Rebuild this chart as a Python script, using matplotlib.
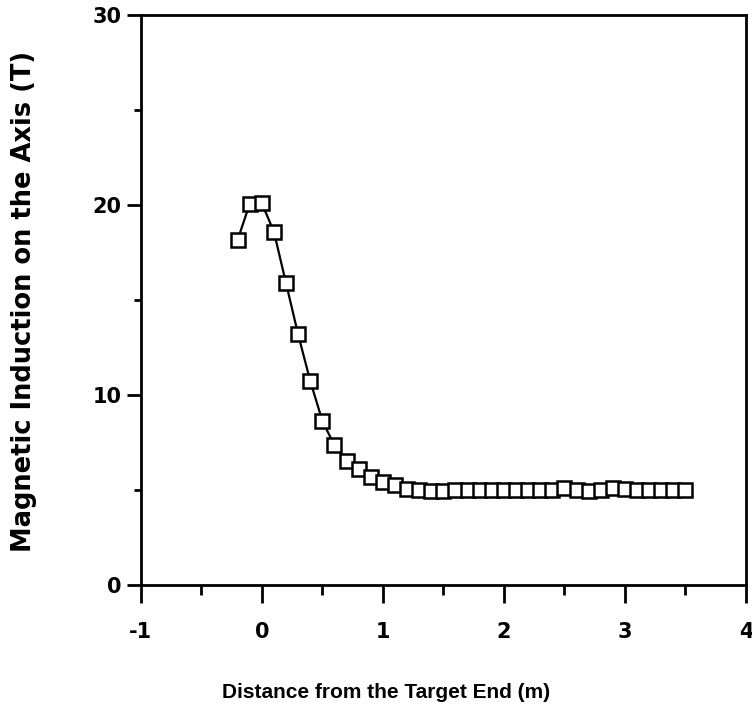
import matplotlib
matplotlib.use("Agg")
import matplotlib.pyplot as plt
from matplotlib.ticker import MultipleLocator

distance = [-0.2, -0.1, 0.0, 0.1, 0.2, 0.3, 0.4, 0.5, 0.6, 0.7, 0.8, 0.9,
            1.0, 1.1, 1.2, 1.3, 1.4, 1.5, 1.6, 1.7, 1.8, 1.9, 2.0, 2.1,
            2.2, 2.3, 2.4, 2.5, 2.6, 2.7, 2.8, 2.9, 3.0, 3.1, 3.2, 3.3,
            3.4, 3.5]
induction = [18.15, 20.05, 20.1, 18.6, 15.9, 13.2, 10.75, 8.65, 7.35, 6.55,
             6.1, 5.7, 5.42, 5.25, 5.06, 4.98, 4.97, 4.97, 4.98, 4.98, 4.98,
             4.98, 4.99, 4.99, 4.99, 4.99, 5.02, 5.08, 4.99, 4.93, 5.0, 5.08,
             5.04, 4.99, 4.98, 4.99, 4.99, 5.0]

x_ticks = [-1, 0, 1, 2, 3, 4]
y_ticks = [0, 10, 20, 30]

plt.rcParams['font.family'] = ['Liberation Sans', 'DejaVu Sans']
plt.rcParams['font.weight'] = 'bold'
plt.rcParams['axes.unicode_minus'] = False

fig = plt.figure(figsize=(7.52, 7.14), dpi=100)
ax = fig.add_axes([140.7 / 752, 1 - 585 / 714, (746 - 140.7) / 752, (585 - 15) / 714])

ax.plot(distance, induction, color='black', lw=1.6, marker='s', ms=9.5,
        mfc='white', mec='black', mew=1.8, zorder=3)

ax.set_xlim(-1, 4)
ax.set_ylim(0, 30)
ax.set_xticks(x_ticks)
ax.set_yticks(y_ticks)
ax.xaxis.set_minor_locator(MultipleLocator(0.5))
ax.yaxis.set_minor_locator(MultipleLocator(5))
ax.tick_params(axis='x', which='major', direction='out', length=13, width=2.0,
               labelsize=15, pad=14)
ax.tick_params(axis='x', which='minor', direction='out', length=7, width=2.0)
ax.tick_params(axis='y', which='major', direction='out', length=10, width=2.0,
               labelsize=15, pad=4)
ax.tick_params(axis='y', which='minor', direction='out', length=5, width=2.0)
for lab in ax.get_xticklabels() + ax.get_yticklabels():
    lab.set_fontweight('bold')
    lab.set_family(['DejaVu Sans'])
for s in ax.spines.values():
    s.set_linewidth(2.0)

ax.set_xlabel('Distance from the Target End (m)', fontsize=15, fontweight='bold')
ax.set_ylabel('Magnetic Induction on the Axis (T)', fontsize=18.5,
              fontweight='bold', family=['DejaVu Sans'])
ax.xaxis.set_label_coords((386 - 140.7) / 605.3, (585 - 683) / 570)
ax.yaxis.set_label_coords((37 - 140.7) / 605.3, (585 - 301) / 570)

fig.savefig('out.png', dpi=100)
